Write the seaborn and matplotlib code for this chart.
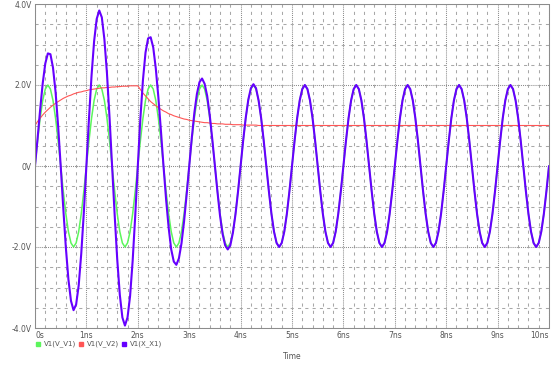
import matplotlib
matplotlib.use('Agg')
import matplotlib.pyplot as plt
from matplotlib.lines import Line2D
import seaborn as sns
import numpy as np
import pandas as pd

# eje de tiempo (ns), una muestra cada 0.05 ns
tiempo_ns = np.round(np.arange(201) * 0.05, 2)

# V1(V_V1): senoidal de 2 V
v_v1 = [
    0.00, 0.62, 1.18, 1.62, 1.90, 2.00, 1.90, 1.62, 1.18, 0.62, 0.00, -0.62, -1.18, -1.62, -1.90, -2.00, -1.90, -1.62, -1.18, -0.62,
    0.00, 0.62, 1.18, 1.62, 1.90, 2.00, 1.90, 1.62, 1.18, 0.62, 0.00, -0.62, -1.18, -1.62, -1.90, -2.00, -1.90, -1.62, -1.18, -0.62,
    0.00, 0.62, 1.18, 1.62, 1.90, 2.00, 1.90, 1.62, 1.18, 0.62, 0.00, -0.62, -1.18, -1.62, -1.90, -2.00, -1.90, -1.62, -1.18, -0.62,
    0.00, 0.62, 1.18, 1.62, 1.90, 2.00, 1.90, 1.62, 1.18, 0.62, 0.00, -0.62, -1.18, -1.62, -1.90, -2.00, -1.90, -1.62, -1.18, -0.62,
    0.00, 0.62, 1.18, 1.62, 1.90, 2.00, 1.90, 1.62, 1.18, 0.62, 0.00, -0.62, -1.18, -1.62, -1.90, -2.00, -1.90, -1.62, -1.18, -0.62,
    0.00, 0.62, 1.18, 1.62, 1.90, 2.00, 1.90, 1.62, 1.18, 0.62, 0.00, -0.62, -1.18, -1.62, -1.90, -2.00, -1.90, -1.62, -1.18, -0.62,
    0.00, 0.62, 1.18, 1.62, 1.90, 2.00, 1.90, 1.62, 1.18, 0.62, 0.00, -0.62, -1.18, -1.62, -1.90, -2.00, -1.90, -1.62, -1.18, -0.62,
    0.00, 0.62, 1.18, 1.62, 1.90, 2.00, 1.90, 1.62, 1.18, 0.62, 0.00, -0.62, -1.18, -1.62, -1.90, -2.00, -1.90, -1.62, -1.18, -0.62,
    0.00, 0.62, 1.18, 1.62, 1.90, 2.00, 1.90, 1.62, 1.18, 0.62, 0.00, -0.62, -1.18, -1.62, -1.90, -2.00, -1.90, -1.62, -1.18, -0.62,
    0.00, 0.62, 1.18, 1.62, 1.90, 2.00, 1.90, 1.62, 1.18, 0.62, 0.00, -0.62, -1.18, -1.62, -1.90, -2.00, -1.90, -1.62, -1.18, -0.62,
    0.00,
]

# V1(V_V2): sube de 1 V a 2 V, baja otra vez a 1 V desde 2 ns
v_v2 = [
    1.00, 1.10, 1.18, 1.26, 1.33, 1.39, 1.45, 1.50, 1.55, 1.59, 1.63, 1.67, 1.70, 1.73, 1.75, 1.78, 1.80, 1.82, 1.83, 1.85,
    1.86, 1.88, 1.89, 1.90, 1.91, 1.92, 1.93, 1.93, 1.94, 1.94, 1.95, 1.95, 1.96, 1.96, 1.97, 1.97, 1.97, 1.98, 1.98, 1.98,
    1.98, 1.89, 1.80, 1.73, 1.66, 1.59, 1.54, 1.49, 1.44, 1.40, 1.36, 1.33, 1.29, 1.27, 1.24, 1.22, 1.20, 1.18, 1.16, 1.15,
    1.13, 1.12, 1.11, 1.10, 1.09, 1.08, 1.07, 1.07, 1.06, 1.05, 1.05, 1.04, 1.04, 1.04, 1.03, 1.03, 1.03, 1.02, 1.02, 1.02,
    1.02, 1.01, 1.01, 1.01, 1.01, 1.01, 1.01, 1.00, 1.00, 1.00, 1.00, 1.00, 1.00, 1.00, 1.00, 1.00, 1.00, 1.00, 1.00, 1.00,
    1.00, 1.00, 1.00, 1.00, 1.00, 1.00, 1.00, 1.00, 1.00, 1.00, 1.00, 1.00, 1.00, 1.00, 1.00, 1.00, 1.00, 1.00, 1.00, 1.00,
    1.00, 1.00, 1.00, 1.00, 1.00, 1.00, 1.00, 1.00, 1.00, 1.00, 1.00, 1.00, 1.00, 1.00, 1.00, 1.00, 1.00, 1.00, 1.00, 1.00,
    1.00, 1.00, 1.00, 1.00, 1.00, 1.00, 1.00, 1.00, 1.00, 1.00, 1.00, 1.00, 1.00, 1.00, 1.00, 1.00, 1.00, 1.00, 1.00, 1.00,
    1.00, 1.00, 1.00, 1.00, 1.00, 1.00, 1.00, 1.00, 1.00, 1.00, 1.00, 1.00, 1.00, 1.00, 1.00, 1.00, 1.00, 1.00, 1.00, 1.00,
    1.00, 1.00, 1.00, 1.00, 1.00, 1.00, 1.00, 1.00, 1.00, 1.00, 1.00, 1.00, 1.00, 1.00, 1.00, 1.00, 1.00, 1.00, 1.00, 1.00,
    1.00,
]

# V1(X_X1): salida del multiplicador
x_x1 = [
    0.00, 0.68, 1.39, 2.04, 2.53, 2.78, 2.76, 2.43, 1.83, 0.99, 0.00, -1.04, -2.01, -2.80, -3.33, -3.56, -3.42, -2.95, -2.16, -1.15,
    0.00, 1.17, 2.23, 3.08, 3.63, 3.84, 3.67, 3.13, 2.29, 1.20, 0.00, -1.21, -2.31, -3.18, -3.74, -3.94, -3.74, -3.21, -2.34, -1.23,
    0.00, 1.17, 2.12, 2.80, 3.15, 3.18, 2.93, 2.41, 1.70, 0.87, 0.00, -0.82, -1.52, -2.06, -2.36, -2.44, -2.28, -1.91, -1.37, -0.71,
    0.00, 0.69, 1.31, 1.78, 2.07, 2.16, 2.03, 1.73, 1.25, 0.65, 0.00, -0.64, -1.23, -1.68, -1.96, -2.06, -1.96, -1.65, -1.20, -0.63,
    0.00, 0.63, 1.19, 1.64, 1.92, 2.02, 1.92, 1.62, 1.18, 0.62, 0.00, -0.62, -1.18, -1.62, -1.90, -2.00, -1.90, -1.62, -1.18, -0.62,
    0.00, 0.62, 1.18, 1.62, 1.90, 2.00, 1.90, 1.62, 1.18, 0.62, 0.00, -0.62, -1.18, -1.62, -1.90, -2.00, -1.90, -1.62, -1.18, -0.62,
    0.00, 0.62, 1.18, 1.62, 1.90, 2.00, 1.90, 1.62, 1.18, 0.62, 0.00, -0.62, -1.18, -1.62, -1.90, -2.00, -1.90, -1.62, -1.18, -0.62,
    0.00, 0.62, 1.18, 1.62, 1.90, 2.00, 1.90, 1.62, 1.18, 0.62, 0.00, -0.62, -1.18, -1.62, -1.90, -2.00, -1.90, -1.62, -1.18, -0.62,
    0.00, 0.62, 1.18, 1.62, 1.90, 2.00, 1.90, 1.62, 1.18, 0.62, 0.00, -0.62, -1.18, -1.62, -1.90, -2.00, -1.90, -1.62, -1.18, -0.62,
    0.00, 0.62, 1.18, 1.62, 1.90, 2.00, 1.90, 1.62, 1.18, 0.62, 0.00, -0.62, -1.18, -1.62, -1.90, -2.00, -1.90, -1.62, -1.18, -0.62,
    0.00,
]

series = ['V1(V_V1)', 'V1(V_V2)', 'V1(X_X1)']
colores = ['#5cf55c', '#ff5555', '#6600ff']
anchos = [1.1, 0.8, 1.5]

etiquetas_x = ['0s', '1ns', '2ns', '3ns', '4ns', '5ns', '6ns', '7ns', '8ns', '9ns', '10ns']
etiquetas_y = ['-4.0V', '-2.0V', '0V', '2.0V', '4.0V']

df = pd.DataFrame({'t': tiempo_ns, series[0]: v_v1, series[1]: v_v2, series[2]: x_x1})
df = df.melt(id_vars='t', var_name='serie', value_name='v')

sns.set_style('white')
plt.rcParams['font.family'] = ['DejaVu Sans']

fig, ax = plt.subplots(figsize=(5.55, 3.84), dpi=100)
fig.subplots_adjust(left=35/555, right=549/555, top=1 - 4/384, bottom=1 - 328/384)

for nombre, color, lw in zip(series, colores, anchos):
    sns.lineplot(data=df[df['serie'] == nombre], x='t', y='v', color=color, lw=lw,
                 estimator=None, sort=False, legend=False, ax=ax)

ax.set_xlim(0, 10)
ax.set_ylim(-4, 4)
ax.set_xticks(range(11))
ax.set_xticklabels(etiquetas_x)
ax.set_xticks(np.arange(0, 10.01, 0.2), minor=True)
ax.set_yticks([-4, -2, 0, 2, 4])
ax.set_yticklabels(etiquetas_y)
ax.set_yticks(np.arange(-4, 4.01, 0.5), minor=True)

ax.grid(which='major', color='#8c8c8c', linestyle=(0, (1, 1)), lw=0.75)
ax.grid(which='minor', color='#a8a8a8', linestyle=(0, (3, 4)), lw=0.75)
ax.set_axisbelow(True)
for s in ax.spines.values():
    s.set_color('#8c8c8c')
    s.set_linestyle((0, (1, 1)))
    s.set_linewidth(0.75)

ax.tick_params(which='both', length=0, labelsize=5.5, labelcolor='#555555', pad=2.5)
etqs = ax.get_xticklabels()
etqs[0].set_ha('left')
etqs[-1].set_ha('right')
ax.set_xlabel('Time', fontsize=5.5, color='#555555', labelpad=8)
ax.set_ylabel('')

# leyenda abajo a la izquierda, estilo PSpice
for i, (nombre, color) in enumerate(zip(series, colores)):
    xm = (38 + 43 * i) / 555
    ym = 1 - 344 / 384
    fig.add_artist(Line2D([xm], [ym], marker='s', markersize=2.2, color=color,
                          linestyle='none', transform=fig.transFigure))
    fig.text(xm + 6 / 555, ym, nombre, fontsize=5, color='#555555', va='center', ha='left')

plt.savefig('out.png', dpi=100)
plt.close()
